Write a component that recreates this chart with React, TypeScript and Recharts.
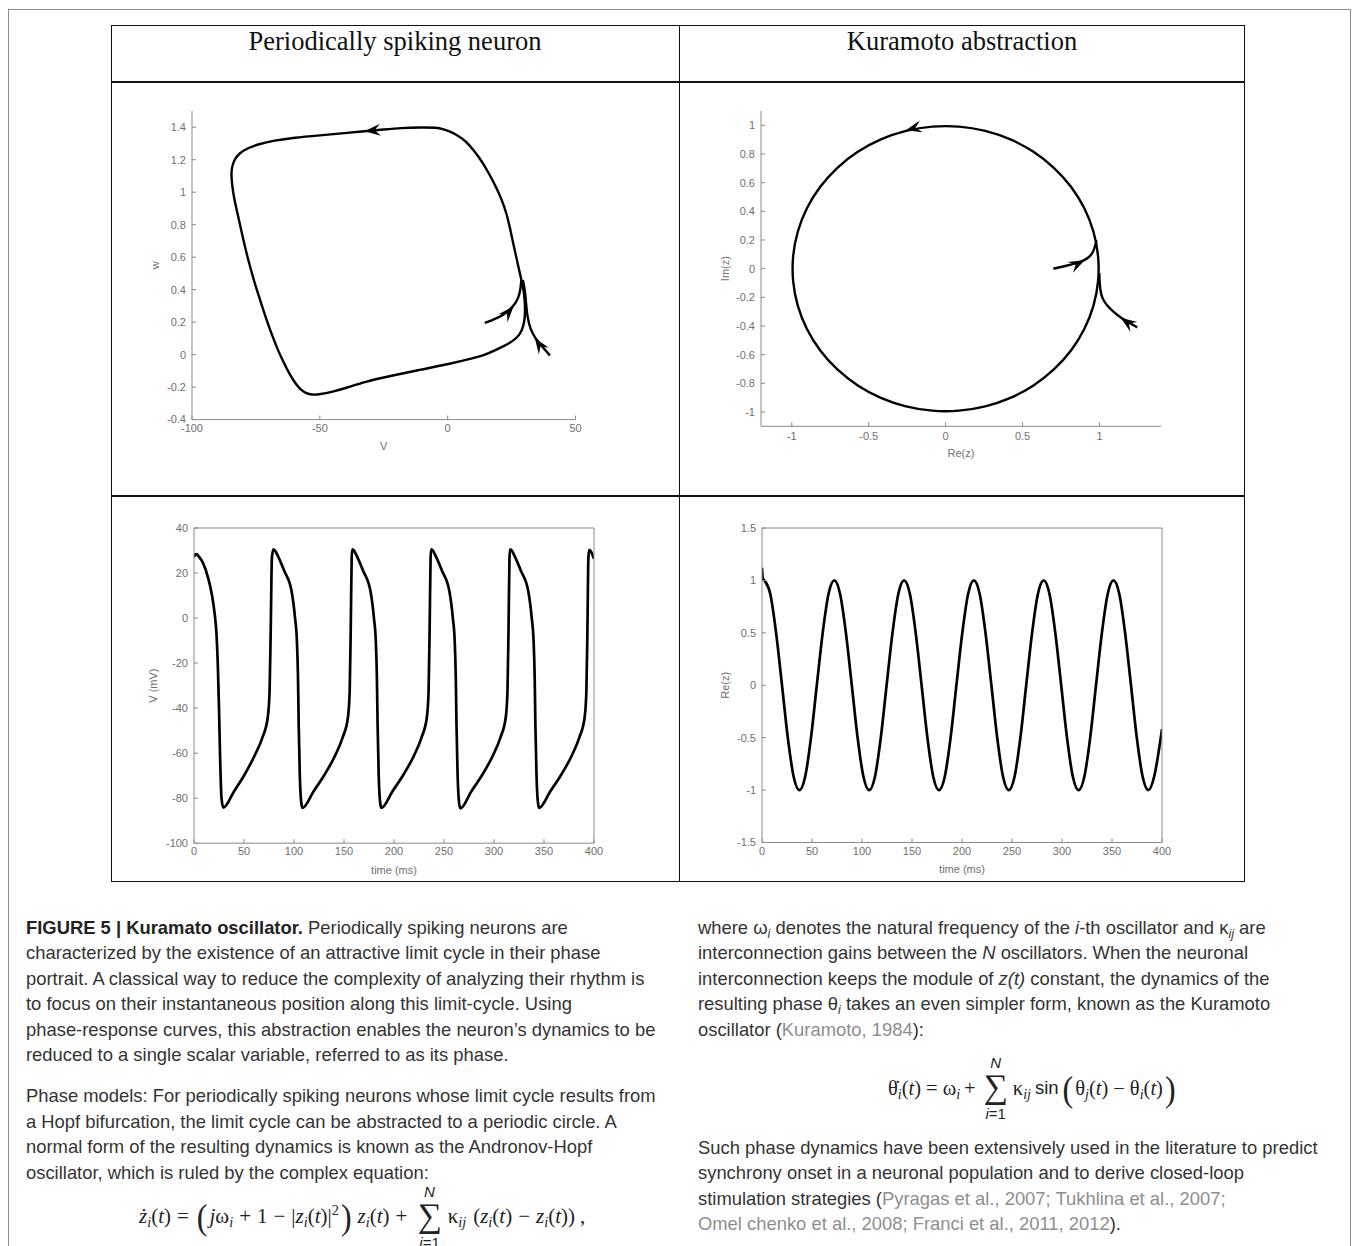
import React from 'react';
import { ScatterChart, Scatter, LineChart, Line, XAxis, YAxis, Curve } from 'recharts';

// ---------- periodically spiking neuron: phase portrait (V, w), runs counterclockwise
// a: 1 marks the points where an arrowhead sits on the trajectory
const limitCycle = [
  { v: -4, w: 1.398 }, { v: -11, w: 1.399 }, { v: -18, w: 1.396 }, { v: -25, w: 1.386 },
  { v: -32.5, w: 1.375, a: 1 }, { v: -40, w: 1.364 }, { v: -50, w: 1.35 }, { v: -60, w: 1.336 },
  { v: -68, w: 1.318 }, { v: -74, w: 1.296 }, { v: -78.5, w: 1.27 }, { v: -81.5, w: 1.24 },
  { v: -83.5, w: 1.2 }, { v: -84.5, w: 1.15 }, { v: -84.6, w: 1.1 }, { v: -84.3, w: 1.04 },
  { v: -83.4, w: 0.95 }, { v: -82.2, w: 0.87 }, { v: -80.8, w: 0.77 }, { v: -79.3, w: 0.665 },
  { v: -77.3, w: 0.54 }, { v: -75.1, w: 0.42 }, { v: -73, w: 0.32 }, { v: -70.9, w: 0.216 },
  { v: -68.7, w: 0.12 }, { v: -66.5, w: 0.031 }, { v: -64.4, w: -0.04 }, { v: -62.2, w: -0.11 },
  { v: -60, w: -0.168 }, { v: -57.8, w: -0.212 }, { v: -55.5, w: -0.238 }, { v: -53, w: -0.248 },
  { v: -50, w: -0.245 }, { v: -45, w: -0.228 }, { v: -40, w: -0.207 }, { v: -32.5, w: -0.167 },
  { v: -22, w: -0.13 }, { v: -11, w: -0.094 }, { v: 0, w: -0.06 }, { v: 10, w: -0.022 },
  { v: 15, w: 0 }, { v: 18.7, w: 0.028 }, { v: 22, w: 0.052 }, { v: 24.8, w: 0.077 },
  { v: 27.2, w: 0.105 }, { v: 29, w: 0.145 }, { v: 30, w: 0.2 }, { v: 30.3, w: 0.26 },
  { v: 30.2, w: 0.33 }, { v: 29.7, w: 0.4 }, { v: 28.8, w: 0.462 }, { v: 27.4, w: 0.56 },
  { v: 25.9, w: 0.667 }, { v: 24.5, w: 0.77 }, { v: 23, w: 0.873 }, { v: 21, w: 0.96 },
  { v: 18.7, w: 1.04 }, { v: 16, w: 1.12 }, { v: 13, w: 1.2 }, { v: 10, w: 1.262 },
  { v: 7.2, w: 1.313 }, { v: 4, w: 1.35 }, { v: 0.5, w: 1.376 }, { v: -2, w: 1.39 },
];
const innerApproach = [
  { v: 14.5, w: 0.195 }, { v: 18, w: 0.215 }, { v: 22, w: 0.245 }, { v: 25.8, w: 0.298, a: 1 },
  { v: 27.6, w: 0.345 }, { v: 28.5, w: 0.4 }, { v: 28.8, w: 0.46 },
];
const outerApproach = [
  { v: 40, w: -0.005 }, { v: 37.5, w: 0.04 }, { v: 34.1, w: 0.103, a: 1 }, { v: 32.3, w: 0.16 },
  { v: 31.2, w: 0.23 }, { v: 30.7, w: 0.31 }, { v: 30.2, w: 0.4 }, { v: 29.4, w: 0.46 },
];
const vTicks = [-100, -50, 0, 50];
const wTicks = [-0.4, -0.2, 0, 0.2, 0.4, 0.6, 0.8, 1, 1.2, 1.4];

// ---------- Kuramoto abstraction: the circle in the complex plane
const unitCircle = [
  { re: 0.996, im: 0.087 }, { re: 0.966, im: 0.259 }, { re: 0.906, im: 0.423 }, { re: 0.819, im: 0.574 },
  { re: 0.707, im: 0.707 }, { re: 0.574, im: 0.819 }, { re: 0.423, im: 0.906 }, { re: 0.259, im: 0.966 },
  { re: 0.087, im: 0.996 }, { re: -0.087, im: 0.996 }, { re: -0.259, im: 0.966, a: 1 }, { re: -0.423, im: 0.906 },
  { re: -0.574, im: 0.819 }, { re: -0.707, im: 0.707 }, { re: -0.819, im: 0.574 }, { re: -0.906, im: 0.423 },
  { re: -0.966, im: 0.259 }, { re: -0.996, im: 0.087 }, { re: -0.996, im: -0.087 }, { re: -0.966, im: -0.259 },
  { re: -0.906, im: -0.423 }, { re: -0.819, im: -0.574 }, { re: -0.707, im: -0.707 }, { re: -0.574, im: -0.819 },
  { re: -0.423, im: -0.906 }, { re: -0.259, im: -0.966 }, { re: -0.087, im: -0.996 }, { re: 0.087, im: -0.996 },
  { re: 0.259, im: -0.966 }, { re: 0.423, im: -0.906 }, { re: 0.574, im: -0.819 }, { re: 0.707, im: -0.707 },
  { re: 0.819, im: -0.574 }, { re: 0.906, im: -0.423 }, { re: 0.966, im: -0.259 }, { re: 0.996, im: -0.087 },
];
const innerApproachZ = [
  { re: 0.7, im: 0 }, { re: 0.78, im: 0.018 }, { re: 0.85, im: 0.038 }, { re: 0.904, im: 0.058, a: 1 },
  { re: 0.94, im: 0.085 }, { re: 0.963, im: 0.125 }, { re: 0.975, im: 0.17 }, { re: 0.98, im: 0.2 },
];
const outerApproachZ = [
  { re: 1.245, im: -0.41 }, { re: 1.19, im: -0.375 }, { re: 1.138, im: -0.342, a: 1 }, { re: 1.09, im: -0.3 },
  { re: 1.045, im: -0.255 }, { re: 1.017, im: -0.205 }, { re: 1.005, im: -0.15 }, { re: 1, im: -0.08 },
  { re: 0.999, im: -0.03 },
];
const reTicks = [-1, -0.5, 0, 0.5, 1];
const imTicks = [-1, -0.8, -0.6, -0.4, -0.2, 0, 0.2, 0.4, 0.6, 0.8, 1];

// ---------- membrane potential V (mV) over time (ms)
const spikeTrace = [
  { t: 0, v: 27 }, { t: 1.2, v: 28.2 }, { t: 2.5, v: 28.4 }, { t: 5, v: 27.2 }, { t: 8.7, v: 24.7 },
  { t: 14, v: 18 }, { t: 17.8, v: 10.6 }, { t: 20.7, v: 1.7 }, { t: 22.5, v: -7.2 }, { t: 23.9, v: -22 },
  { t: 25, v: -40 }, { t: 26.1, v: -62 }, { t: 27.5, v: -80 }, { t: 29.3, v: -84.2 },
  { t: 40, v: -77 }, { t: 50.5, v: -69.6 }, { t: 61, v: -60.7 }, { t: 68.3, v: -53.2 }, { t: 73.7, v: -44.3 },
  { t: 75.6, v: -32.4 }, { t: 76.8, v: -2.8 }, { t: 77.9, v: 26.9 },
  { t: 79.5, v: 30.5 }, { t: 81, v: 30 }, { t: 83, v: 28.4 }, { t: 90.2, v: 21 }, { t: 97.5, v: 12.1 },
  { t: 101, v: 0.2 }, { t: 102.9, v: -10.2 }, { t: 104, v: -26.5 }, { t: 104.7, v: -47.3 }, { t: 105.8, v: -69.6 },
  { t: 107.4, v: -82.5 }, { t: 108.5, v: -84.3 },
  { t: 119.5, v: -77 }, { t: 130.5, v: -69.6 }, { t: 141.5, v: -60.7 }, { t: 148.5, v: -53.2 }, { t: 153.9, v: -44.3 },
  { t: 155.7, v: -32.4 }, { t: 156.8, v: -2.8 }, { t: 157.7, v: 26.9 },
  { t: 158.4, v: 30.5 }, { t: 160, v: 30 }, { t: 161.9, v: 28.4 }, { t: 169.1, v: 21 }, { t: 176.4, v: 12.1 },
  { t: 179.9, v: 0.2 }, { t: 181.8, v: -10.2 }, { t: 182.9, v: -26.5 }, { t: 183.6, v: -47.3 }, { t: 184.7, v: -69.6 },
  { t: 186.3, v: -82.5 }, { t: 187.4, v: -84.3 },
  { t: 198.4, v: -77 }, { t: 209.4, v: -69.6 }, { t: 220.4, v: -60.7 }, { t: 227.4, v: -53.2 }, { t: 232.8, v: -44.3 },
  { t: 234.6, v: -32.4 }, { t: 235.7, v: -2.8 }, { t: 236.6, v: 26.9 },
  { t: 237.3, v: 30.5 }, { t: 238.9, v: 30 }, { t: 240.8, v: 28.4 }, { t: 248, v: 21 }, { t: 255.3, v: 12.1 },
  { t: 258.8, v: 0.2 }, { t: 260.7, v: -10.2 }, { t: 261.8, v: -26.5 }, { t: 262.5, v: -47.3 }, { t: 263.6, v: -69.6 },
  { t: 265.2, v: -82.5 }, { t: 266.3, v: -84.5 },
  { t: 277.3, v: -77 }, { t: 288.3, v: -69.6 }, { t: 299.3, v: -60.7 }, { t: 306.3, v: -53.2 }, { t: 311.7, v: -44.3 },
  { t: 313.5, v: -32.4 }, { t: 314.6, v: -2.8 }, { t: 315.5, v: 26.9 },
  { t: 316.2, v: 30.5 }, { t: 317.8, v: 30 }, { t: 319.7, v: 28.4 }, { t: 326.9, v: 21 }, { t: 334.2, v: 12.1 },
  { t: 337.7, v: 0.2 }, { t: 339.6, v: -10.2 }, { t: 340.7, v: -26.5 }, { t: 341.4, v: -47.3 }, { t: 342.5, v: -69.6 },
  { t: 344.1, v: -82.5 }, { t: 345.2, v: -84.3 },
  { t: 356.2, v: -77 }, { t: 367.2, v: -69.6 }, { t: 378.2, v: -60.7 }, { t: 385.2, v: -53.2 }, { t: 390.6, v: -44.3 },
  { t: 392.4, v: -32.4 }, { t: 393.5, v: -2.8 }, { t: 394.4, v: 26.9 },
  { t: 395.3, v: 30.3 }, { t: 397, v: 29.5 }, { t: 400, v: 26.3 },
];
const timeTicks = [0, 50, 100, 150, 200, 250, 300, 350, 400];
const mvTicks = [-100, -80, -60, -40, -20, 0, 20, 40];

// ---------- Re(z) over time (ms)
const phaseTrace = [
  { t: 0, re: 1.12 }, { t: 0.8, re: 1.02 }, { t: 2.5, re: 1 }, { t: 8.3, re: 0.87 }, { t: 14.1, re: 0.5 },
  { t: 20, re: 0 }, { t: 25.8, re: -0.5 }, { t: 31.6, re: -0.87 }, { t: 37.4, re: -1 }, { t: 43.2, re: -0.87 },
  { t: 49, re: -0.5 }, { t: 54.8, re: 0 }, { t: 60.7, re: 0.5 }, { t: 66.5, re: 0.87 }, { t: 72.3, re: 1 },
  { t: 78.1, re: 0.87 }, { t: 83.9, re: 0.5 }, { t: 89.8, re: 0 }, { t: 95.6, re: -0.5 }, { t: 101.4, re: -0.87 },
  { t: 107.2, re: -1 }, { t: 113, re: -0.87 }, { t: 118.8, re: -0.5 }, { t: 124.6, re: 0 }, { t: 130.5, re: 0.5 },
  { t: 136.3, re: 0.87 }, { t: 142.1, re: 1 }, { t: 147.9, re: 0.87 }, { t: 153.7, re: 0.5 }, { t: 159.6, re: 0 },
  { t: 165.4, re: -0.5 }, { t: 171.2, re: -0.87 }, { t: 177, re: -1 }, { t: 182.8, re: -0.87 }, { t: 188.6, re: -0.5 },
  { t: 194.4, re: 0 }, { t: 200.3, re: 0.5 }, { t: 206.1, re: 0.87 }, { t: 211.9, re: 1 }, { t: 217.7, re: 0.87 },
  { t: 223.5, re: 0.5 }, { t: 229.4, re: 0 }, { t: 235.2, re: -0.5 }, { t: 241, re: -0.87 }, { t: 246.8, re: -1 },
  { t: 252.6, re: -0.87 }, { t: 258.4, re: -0.5 }, { t: 264.2, re: 0 }, { t: 270.1, re: 0.5 }, { t: 275.9, re: 0.87 },
  { t: 281.7, re: 1 }, { t: 287.5, re: 0.87 }, { t: 293.3, re: 0.5 }, { t: 299.2, re: 0 }, { t: 305, re: -0.5 },
  { t: 310.8, re: -0.87 }, { t: 316.6, re: -1 }, { t: 322.4, re: -0.87 }, { t: 328.2, re: -0.5 }, { t: 334, re: 0 },
  { t: 339.9, re: 0.5 }, { t: 345.7, re: 0.87 }, { t: 351.5, re: 1 }, { t: 357.3, re: 0.87 }, { t: 363.1, re: 0.5 },
  { t: 369, re: 0 }, { t: 374.8, re: -0.5 }, { t: 380.6, re: -0.87 }, { t: 386.4, re: -1 }, { t: 392.2, re: -0.87 },
  { t: 398, re: -0.55 }, { t: 400, re: -0.42 },
];
const reTimeTicks = [-1.5, -1, -0.5, 0, 0.5, 1, 1.5];

// ---------- layout
type Plot = { x: number; y: number; w: number; h: number };
const PLOT_TL: Plot = { x: 191.8, y: 111.4, w: 383.5, h: 308.6 };
const PLOT_TR: Plot = { x: 761, y: 110.7, w: 400, h: 315.3 };
const PLOT_BL: Plot = { x: 194, y: 527.5, w: 400, h: 315.2 };
const PLOT_BR: Plot = { x: 761.5, y: 527.5, w: 400, h: 314.5 };

const Y_AXIS_W = 60;
const X_AXIS_H = 40;
const TOP_M = 5;
const RIGHT_M = 22;

const AXIS = '#8a8a8a';
const INK = '#111';
const SANS = '"Liberation Sans", Arial, Helvetica, sans-serif';
const SERIF = '"Liberation Serif", "Times New Roman", serif';
const TICK = { fill: '#6f6f6f', fontSize: 11, fontFamily: SANS };
const LABEL = { fill: '#6f6f6f', fontSize: 11, fontFamily: SANS };

function place(p: Plot, boxed: boolean) {
  const e = boxed ? 1 : 0;
  return {
    style: { position: 'absolute' as const, left: p.x - Y_AXIS_W, top: p.y - TOP_M - e },
    width: Y_AXIS_W + p.w + e + RIGHT_M,
    height: TOP_M + e + p.h + X_AXIS_H,
    margin: { top: TOP_M, right: RIGHT_M, bottom: 0, left: 0 },
  };
}

type Pt = { x: number; y: number };

function noMark() {
  return <g />;
}

function arrowHead(pts: Pt[], i: number) {
  const a = pts[Math.max(i - 1, 0)];
  const b = pts[Math.min(i + 1, pts.length - 1)];
  const ang = (Math.atan2(b.y - a.y, b.x - a.x) * 180) / Math.PI;
  const p = pts[i];
  return (
    <path
      key={`arrow-${i}`}
      d="M0,0 L-16,-6 L-10,0 L-16,6 Z"
      transform={`translate(${p.x},${p.y}) rotate(${ang})`}
      fill="#000"
    />
  );
}

// custom line renderer: smooth curve through the scatter points + arrowheads
function trajectory(rows: { a?: number }[], curve: 'basis' | 'basisClosed') {
  return (props: any) => {
    const pts = (props.points || []) as Pt[];
    return (
      <g>
        <Curve points={pts} type={curve} stroke="#000" strokeWidth={2.4} fill="none" />
        {pts.map((_, i) => (rows[i] && rows[i].a ? arrowHead(pts, i) : null))}
      </g>
    );
  };
}

function NeuronPortrait() {
  const pl = place(PLOT_TL, false);
  return (
    <div style={pl.style}>
      <ScatterChart width={pl.width} height={pl.height} margin={pl.margin}>
        <XAxis
          dataKey="v" type="number" domain={[-100, 50]} ticks={vTicks} allowDataOverflow interval={0}
          height={X_AXIS_H} stroke={AXIS} tickSize={-4} tickMargin={8.4} tick={TICK}
          label={{ value: 'V', position: 'insideBottom', offset: 9.4, ...LABEL }}
        />
        <YAxis
          dataKey="w" type="number" domain={[-0.4, 1.5]} ticks={wTicks} allowDataOverflow interval={0}
          width={Y_AXIS_W} stroke={AXIS} tickSize={-4} tickMargin={10} tick={TICK}
          label={{ value: 'w', angle: -90, position: 'insideLeft', offset: 23.6, ...LABEL, style: { textAnchor: 'middle' } }}
        />
        <Scatter data={limitCycle} shape={noMark} line={trajectory(limitCycle, 'basisClosed')} lineType="joint" isAnimationActive={false} />
        <Scatter data={innerApproach} shape={noMark} line={trajectory(innerApproach, 'basis')} lineType="joint" isAnimationActive={false} />
        <Scatter data={outerApproach} shape={noMark} line={trajectory(outerApproach, 'basis')} lineType="joint" isAnimationActive={false} />
      </ScatterChart>
    </div>
  );
}

function KuramotoPortrait() {
  const pl = place(PLOT_TR, false);
  return (
    <div style={pl.style}>
      <ScatterChart width={pl.width} height={pl.height} margin={pl.margin}>
        <XAxis
          dataKey="re" type="number" domain={[-1.2, 1.4]} ticks={reTicks} allowDataOverflow interval={0}
          height={X_AXIS_H} stroke={AXIS} tickSize={-4} tickMargin={9.5} tick={TICK}
          label={{ value: 'Re(z)', position: 'insideBottom', offset: 8.8, ...LABEL }}
        />
        <YAxis
          dataKey="im" type="number" domain={[-1.1, 1.1]} ticks={imTicks} allowDataOverflow interval={0}
          width={Y_AXIS_W} stroke={AXIS} tickSize={-4} tickMargin={10} tick={TICK}
          label={{ value: 'Im(z)', angle: -90, position: 'insideLeft', offset: 24, ...LABEL, style: { textAnchor: 'middle' } }}
        />
        <Scatter data={unitCircle} shape={noMark} line={trajectory(unitCircle, 'basisClosed')} lineType="joint" isAnimationActive={false} />
        <Scatter data={innerApproachZ} shape={noMark} line={trajectory(innerApproachZ, 'basis')} lineType="joint" isAnimationActive={false} />
        <Scatter data={outerApproachZ} shape={noMark} line={trajectory(outerApproachZ, 'basis')} lineType="joint" isAnimationActive={false} />
      </ScatterChart>
    </div>
  );
}

type TraceProps = {
  plot: Plot;
  data: object[];
  valueKey: string;
  yDomain: [number, number];
  yTicks: number[];
  yLabel: string;
  yLabelOffset: number;
};

function TimeTrace({ plot, data, valueKey, yDomain, yTicks, yLabel, yLabelOffset }: TraceProps) {
  const pl = place(plot, true);
  return (
    <div style={pl.style}>
      <LineChart width={pl.width} height={pl.height} margin={pl.margin} data={data}>
        <XAxis
          dataKey="t" type="number" domain={[0, 400]} ticks={timeTicks} allowDataOverflow interval={0}
          height={X_AXIS_H} stroke={AXIS} tickSize={-4} tickMargin={8.4} tick={TICK}
          label={{ value: 'time (ms)', position: 'insideBottom', offset: 9.4, ...LABEL }}
        />
        <XAxis
          xAxisId="top" orientation="top" type="number" domain={[0, 400]} ticks={timeTicks} allowDataOverflow
          interval={0} height={1} stroke={AXIS} tickSize={-4} tick={false}
        />
        <YAxis
          type="number" domain={yDomain} ticks={yTicks} allowDataOverflow interval={0}
          width={Y_AXIS_W} stroke={AXIS} tickSize={-4} tickMargin={10} tick={TICK}
          label={{ value: yLabel, angle: -90, position: 'insideLeft', offset: yLabelOffset, ...LABEL, style: { textAnchor: 'middle' } }}
        />
        <YAxis
          yAxisId="right" orientation="right" type="number" domain={yDomain} ticks={yTicks} allowDataOverflow
          interval={0} width={1} stroke={AXIS} tickSize={-4} tick={false}
        />
        <Line dataKey={valueKey} type="monotone" dot={false} stroke="#000" strokeWidth={2.7} isAnimationActive={false} />
      </LineChart>
    </div>
  );
}

// ---------- caption text helpers
const para: React.CSSProperties = {
  position: 'absolute',
  fontFamily: SANS,
  fontSize: 18.4,
  lineHeight: '25.5px',
  color: '#333',
  whiteSpace: 'nowrap',
};
const cite: React.CSSProperties = { color: '#8e8e8e' };
const subStyle: React.CSSProperties = { fontSize: '0.68em', verticalAlign: '-0.3em', lineHeight: 0, fontStyle: 'italic' };

function Sub({ children }: { children: React.ReactNode }) {
  return <span style={subStyle}>{children}</span>;
}

function Sum() {
  return (
    <span style={{ display: 'inline-flex', flexDirection: 'column', alignItems: 'center', margin: '0 4px', lineHeight: 1 }}>
      <span style={{ fontSize: 15, lineHeight: '15px', fontStyle: 'italic', fontFamily: SANS, marginBottom: 4 }}>N</span>
      <span style={{ fontSize: 34, lineHeight: '26px', height: 26, fontFamily: SERIF, overflow: 'visible' }}>∑</span>
      <span style={{ fontSize: 15, lineHeight: '15px', fontFamily: SANS, marginTop: 6 }}>
        <i>i</i>=1
      </span>
    </span>
  );
}

function Big({ children }: { children: React.ReactNode }) {
  return <span style={{ fontSize: 32, fontFamily: SERIF, transform: 'scaleY(1.15)', display: 'inline-block', margin: '0 2px' }}>{children}</span>;
}

const eqRow: React.CSSProperties = {
  position: 'absolute',
  height: 76,
  display: 'flex',
  alignItems: 'center',
  fontFamily: SERIF,
  fontSize: 21,
  color: '#222',
  whiteSpace: 'pre',
};

// operator with spacing on both sides
function Op({ children, gap = 6 }: { children: React.ReactNode; gap?: number }) {
  return <span style={{ margin: `0 ${gap}px` }}>{children}</span>;
}

export default function App() {
  return (
    <div style={{ position: 'absolute', left: 0, top: 0, width: 1355, height: 1246, overflow: 'hidden', background: '#fff' }}>
      {/* outer frame */}
      <div style={{ position: 'absolute', left: 8, top: 9, width: 1343, height: 1250, border: '1.5px solid #8c8c8c', boxSizing: 'border-box' }} />

      {/* table */}
      <div style={{ position: 'absolute', left: 111, top: 25, width: 1134, height: 857, border: '1.5px solid #111', boxSizing: 'border-box' }} />
      <div style={{ position: 'absolute', left: 678.5, top: 25, width: 1.6, height: 857, background: '#111' }} />
      <div style={{ position: 'absolute', left: 111, top: 81, width: 1134, height: 2, background: '#111' }} />
      <div style={{ position: 'absolute', left: 111, top: 494.5, width: 1134, height: 2, background: '#111' }} />

      <div style={{ position: 'absolute', left: 111, width: 568, top: 27, textAlign: 'center', fontFamily: SERIF, fontSize: 26.5, lineHeight: '28px', color: INK }}>
        Periodically spiking neuron
      </div>
      <div style={{ position: 'absolute', left: 679, width: 566, top: 27, textAlign: 'center', fontFamily: SERIF, fontSize: 26.5, lineHeight: '28px', color: INK }}>
        Kuramoto abstraction
      </div>

      <NeuronPortrait />
      <KuramotoPortrait />
      <TimeTrace plot={PLOT_BL} data={spikeTrace} valueKey="v" yDomain={[-100, 40]} yTicks={mvTicks} yLabel="V (mV)" yLabelOffset={18.9} />
      <TimeTrace plot={PLOT_BR} data={phaseTrace} valueKey="re" yDomain={[-1.5, 1.5]} yTicks={reTimeTicks} yLabel="Re(z)" yLabelOffset={23.5} />

      {/* caption, left column */}
      <div style={{ ...para, left: 26, top: 914.7 }}>
        <div><b style={{ color: '#222' }}>FIGURE 5 | Kuramato oscillator.</b> Periodically spiking neurons are</div>
        <div>characterized by the existence of an attractive limit cycle in their phase</div>
        <div>portrait. A classical way to reduce the complexity of analyzing their rhythm is</div>
        <div>to focus on their instantaneous position along this limit-cycle. Using</div>
        <div>phase-response curves, this abstraction enables the neuron’s dynamics to be</div>
        <div>reduced to a single scalar variable, referred to as its phase.</div>
      </div>
      <div style={{ ...para, left: 26, top: 1083.1 }}>
        <div>Phase models: For periodically spiking neurons whose limit cycle results from</div>
        <div>a Hopf bifurcation, the limit cycle can be abstracted to a periodic circle. A</div>
        <div>normal form of the resulting dynamics is known as the Andronov-Hopf</div>
        <div>oscillator, which is ruled by the complex equation:</div>
      </div>
      <div style={{ ...eqRow, left: 139, top: 1216.7 - 38 }}>
        <span><i>ż</i><Sub>i</Sub>(<i>t</i>)</span>
        <Op>=</Op>
        <Big>(</Big>
        <span><i>j</i>ω<Sub>i</Sub></span>
        <Op>+</Op>
        <span>1</span>
        <Op>−</Op>
        <span>|<i>z</i><Sub>i</Sub>(<i>t</i>)|<sup style={{ fontSize: '0.68em', lineHeight: 0 }}>2</sup></span>
        <Big>)</Big>
        <span style={{ marginLeft: 4 }}><i>z</i><Sub>i</Sub>(<i>t</i>)</span>
        <Op>+</Op>
        <Sum />
        <span style={{ marginLeft: 2 }}>κ<Sub>ij</Sub></span>
        <span style={{ marginLeft: 7 }}>(<i>z</i><Sub>i</Sub>(<i>t</i>)</span>
        <Op>−</Op>
        <span><i>z</i><Sub>i</Sub>(<i>t</i>))</span>
        <span style={{ marginLeft: 5 }}>,</span>
      </div>

      {/* caption, right column */}
      <div style={{ ...para, left: 698, top: 914.7 }}>
        <div>where ω<Sub>i</Sub> denotes the natural frequency of the <i>i</i>-th oscillator and κ<Sub>ij</Sub> are</div>
        <div>interconnection gains between the <i>N</i> oscillators. When the neuronal</div>
        <div>interconnection keeps the module of <i>z(t)</i> constant, the dynamics of the</div>
        <div>resulting phase θ<Sub>i</Sub> takes an even simpler form, known as the Kuramoto</div>
        <div>oscillator (<span style={cite}>Kuramoto, 1984</span>):</div>
      </div>
      <div style={{ ...eqRow, left: 888, top: 1088.3 - 38, fontSize: 20.5 }}>
        <span>θ̇<Sub>i</Sub>(<i>t</i>)</span>
        <Op gap={5}>=</Op>
        <span>ω<Sub>i</Sub></span>
        <Op gap={4}>+</Op>
        <Sum />
        <span style={{ marginLeft: 1 }}>κ<Sub>ij</Sub></span>
        <span style={{ fontFamily: SANS, fontSize: 18.5, marginLeft: 4, marginRight: 2 }}>sin</span>
        <Big>(</Big>
        <span>θ<Sub>j</Sub>(<i>t</i>)</span>
        <Op gap={5}>−</Op>
        <span>θ<Sub>i</Sub>(<i>t</i>)</span>
        <Big>)</Big>
      </div>
      <div style={{ ...para, left: 698, top: 1134.7 }}>
        <div>Such phase dynamics have been extensively used in the literature to predict</div>
        <div>synchrony onset in a neuronal population and to derive closed-loop</div>
        <div>stimulation strategies (<span style={cite}>Pyragas et al., 2007; Tukhlina et al., 2007;</span></div>
        <div><span style={cite}>Omel chenko et al., 2008; Franci et al., 2011, 2012</span>).</div>
      </div>
    </div>
  );
}
